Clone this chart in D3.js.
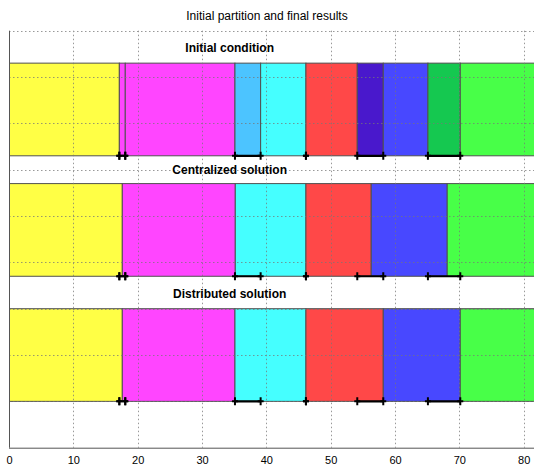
<!DOCTYPE html>
<html>
<head>
<meta charset="utf-8">
<script src="https://cdn.jsdelivr.net/npm/d3@7"></script>
<style>
  html, body { margin: 0; padding: 0; background: #fff; }
  svg { display: block; font-family: "Liberation Sans", Arial, sans-serif; }
</style>
</head>
<body>
<svg id="chart" width="534" height="466"></svg>
<script>
// ---------------- data ----------------
const title = "Initial partition and final results";
const xTicks = [0, 10, 20, 30, 40, 50, 60, 70, 80];
const yGrid = [1, 2, 3, 4, 5, 6, 7, 8, 9];
const xMax = 82.5;

const panelNames = ["Initial condition", "Centralized solution", "Distributed solution"];
const panelBottom = [6.3, 3.7, 1.0];
const panelTop = [8.3, 5.7, 3.0];
const labelY = [8.63, 5.99, 3.31];
const labelX = 34.3;

// segment boundaries (start of each segment), and colours
const initialStarts = [0, 17.15, 18.07, 35.12, 39.11, 46.15, 54.13, 58.17, 65.11, 70.14];
const initialColors = ["#ffff46", "#ff46ff", "#ff46ff", "#4cc4ff", "#46ffff", "#ff4848", "#4a18cc", "#4848ff", "#16c850", "#48ff48"];
const centralStarts = [0, 17.61, 35.17, 46.15, 56.3, 68.11];
const centralColors = ["#ffff46", "#ff46ff", "#46ffff", "#ff4848", "#4848ff", "#48ff48"];
const distribStarts = [0, 17.61, 35.12, 46.15, 58.17, 70.14];
const distribColors = ["#ffff46", "#ff46ff", "#46ffff", "#ff4848", "#4848ff", "#48ff48"];

// uncertainty intervals shown under each bar
const errLo = [17.15, 18.07, 35.12, 46.15, 54.13, 65.11];
const errHi = [17.15, 18.07, 39.11, 46.15, 58.17, 70.14];

// ---------------- drawing ----------------
(function () {
const svg = d3.select("#chart");
const mLeft = 9, mTop = 30.7, mBottom = 447.7;
const x = d3.scaleLinear().domain([0, xMax]).range([mLeft, mLeft + xMax * 6.434]);
const y = d3.scaleLinear().domain([0, 9]).range([mBottom, mTop]);

svg.append("defs").append("clipPath").attr("id", "clip")
  .append("rect").attr("x", mLeft).attr("y", mTop - 1).attr("width", 534 - mLeft).attr("height", mBottom - mTop + 2);

const plot = svg.append("g").attr("clip-path", "url(#clip)");

const panels = [
  { starts: initialStarts, colors: initialColors },
  { starts: centralStarts, colors: centralColors },
  { starts: distribStarts, colors: distribColors }
];

panels.forEach((p, i) => {
  const segs = p.starts.map((s, k) => ({
    s: s,
    e: k + 1 < p.starts.length ? p.starts[k + 1] : xMax + 2,
    c: p.colors[k]
  }));
  plot.append("g").selectAll("rect").data(segs).join("rect")
    .attr("x", d => x(d.s))
    .attr("width", d => x(d.e) - x(d.s))
    .attr("y", y(panelTop[i]))
    .attr("height", y(panelBottom[i]) - y(panelTop[i]))
    .attr("fill", d => d.c)
    .attr("stroke", "#505050")
    .attr("stroke-width", 1);
});

// grid on top
const grid = plot.append("g").attr("stroke", "#777").attr("stroke-width", 1)
  .attr("stroke-dasharray", "1.5,2.5").attr("opacity", 0.75);
grid.selectAll("line.v").data(xTicks.filter(t => t > 0)).join("line")
  .attr("class", "v")
  .attr("x1", d => Math.round(x(d)) + 0.5).attr("x2", d => Math.round(x(d)) + 0.5)
  .attr("y1", mTop).attr("y2", mBottom);
grid.selectAll("line.h").data(yGrid).join("line")
  .attr("class", "h")
  .attr("x1", mLeft).attr("x2", 534)
  .attr("y1", d => Math.round(y(d)) + 0.5).attr("y2", d => Math.round(y(d)) + 0.5);

// error bars
panels.forEach((p, i) => {
  const yy = y(panelBottom[i]);
  const g = plot.append("g");
  const iv = errLo.map((lo, k) => ({ lo: lo, hi: errHi[k] }));
  g.selectAll("line").data(iv).join("line")
    .attr("x1", d => x(d.lo)).attr("x2", d => x(d.hi))
    .attr("y1", yy).attr("y2", yy)
    .attr("stroke", "#000").attr("stroke-width", 2.2);
  const pts = [];
  iv.forEach(d => { pts.push(d.lo); pts.push(d.hi); });
  g.selectAll("path").data(pts).join("path")
    .attr("d", "M-3,0H3M0,-4V4")
    .attr("transform", d => `translate(${x(d)},${yy})`)
    .attr("stroke", "#000").attr("stroke-width", 2)
    .attr("fill", "none");
});

// axes
const xAxis = d3.axisBottom(x).tickValues(xTicks).tickSize(0).tickPadding(9).tickFormat(d3.format("d"));
const gx = svg.append("g").attr("transform", `translate(0,${mBottom})`).call(xAxis);
gx.select(".domain").remove();
gx.selectAll("text").attr("font-size", 11).attr("fill", "#000")
  .attr("font-family", "'Liberation Sans', Arial, sans-serif");

svg.append("line").attr("x1", mLeft).attr("x2", 534).attr("y1", mBottom + 0.5).attr("y2", mBottom + 0.5)
  .attr("stroke", "#555").attr("stroke-width", 1);
svg.append("line").attr("x1", mLeft + 0.5).attr("x2", mLeft + 0.5).attr("y1", mTop).attr("y2", mBottom)
  .attr("stroke", "#555").attr("stroke-width", 1);

// panel labels
svg.append("g").selectAll("text").data(panelNames).join("text")
  .attr("x", x(labelX))
  .attr("y", (d, i) => y(labelY[i]))
  .attr("text-anchor", "middle")
  .attr("dominant-baseline", "central")
  .attr("font-size", 12)
  .attr("font-weight", "bold")
  .attr("fill", "#000")
  .text(d => d);

// title
svg.append("text").attr("x", 267).attr("y", 20)
  .attr("text-anchor", "middle").attr("font-size", 12).attr("fill", "#000")
  .text(title);
})();
</script>
</body>
</html>
